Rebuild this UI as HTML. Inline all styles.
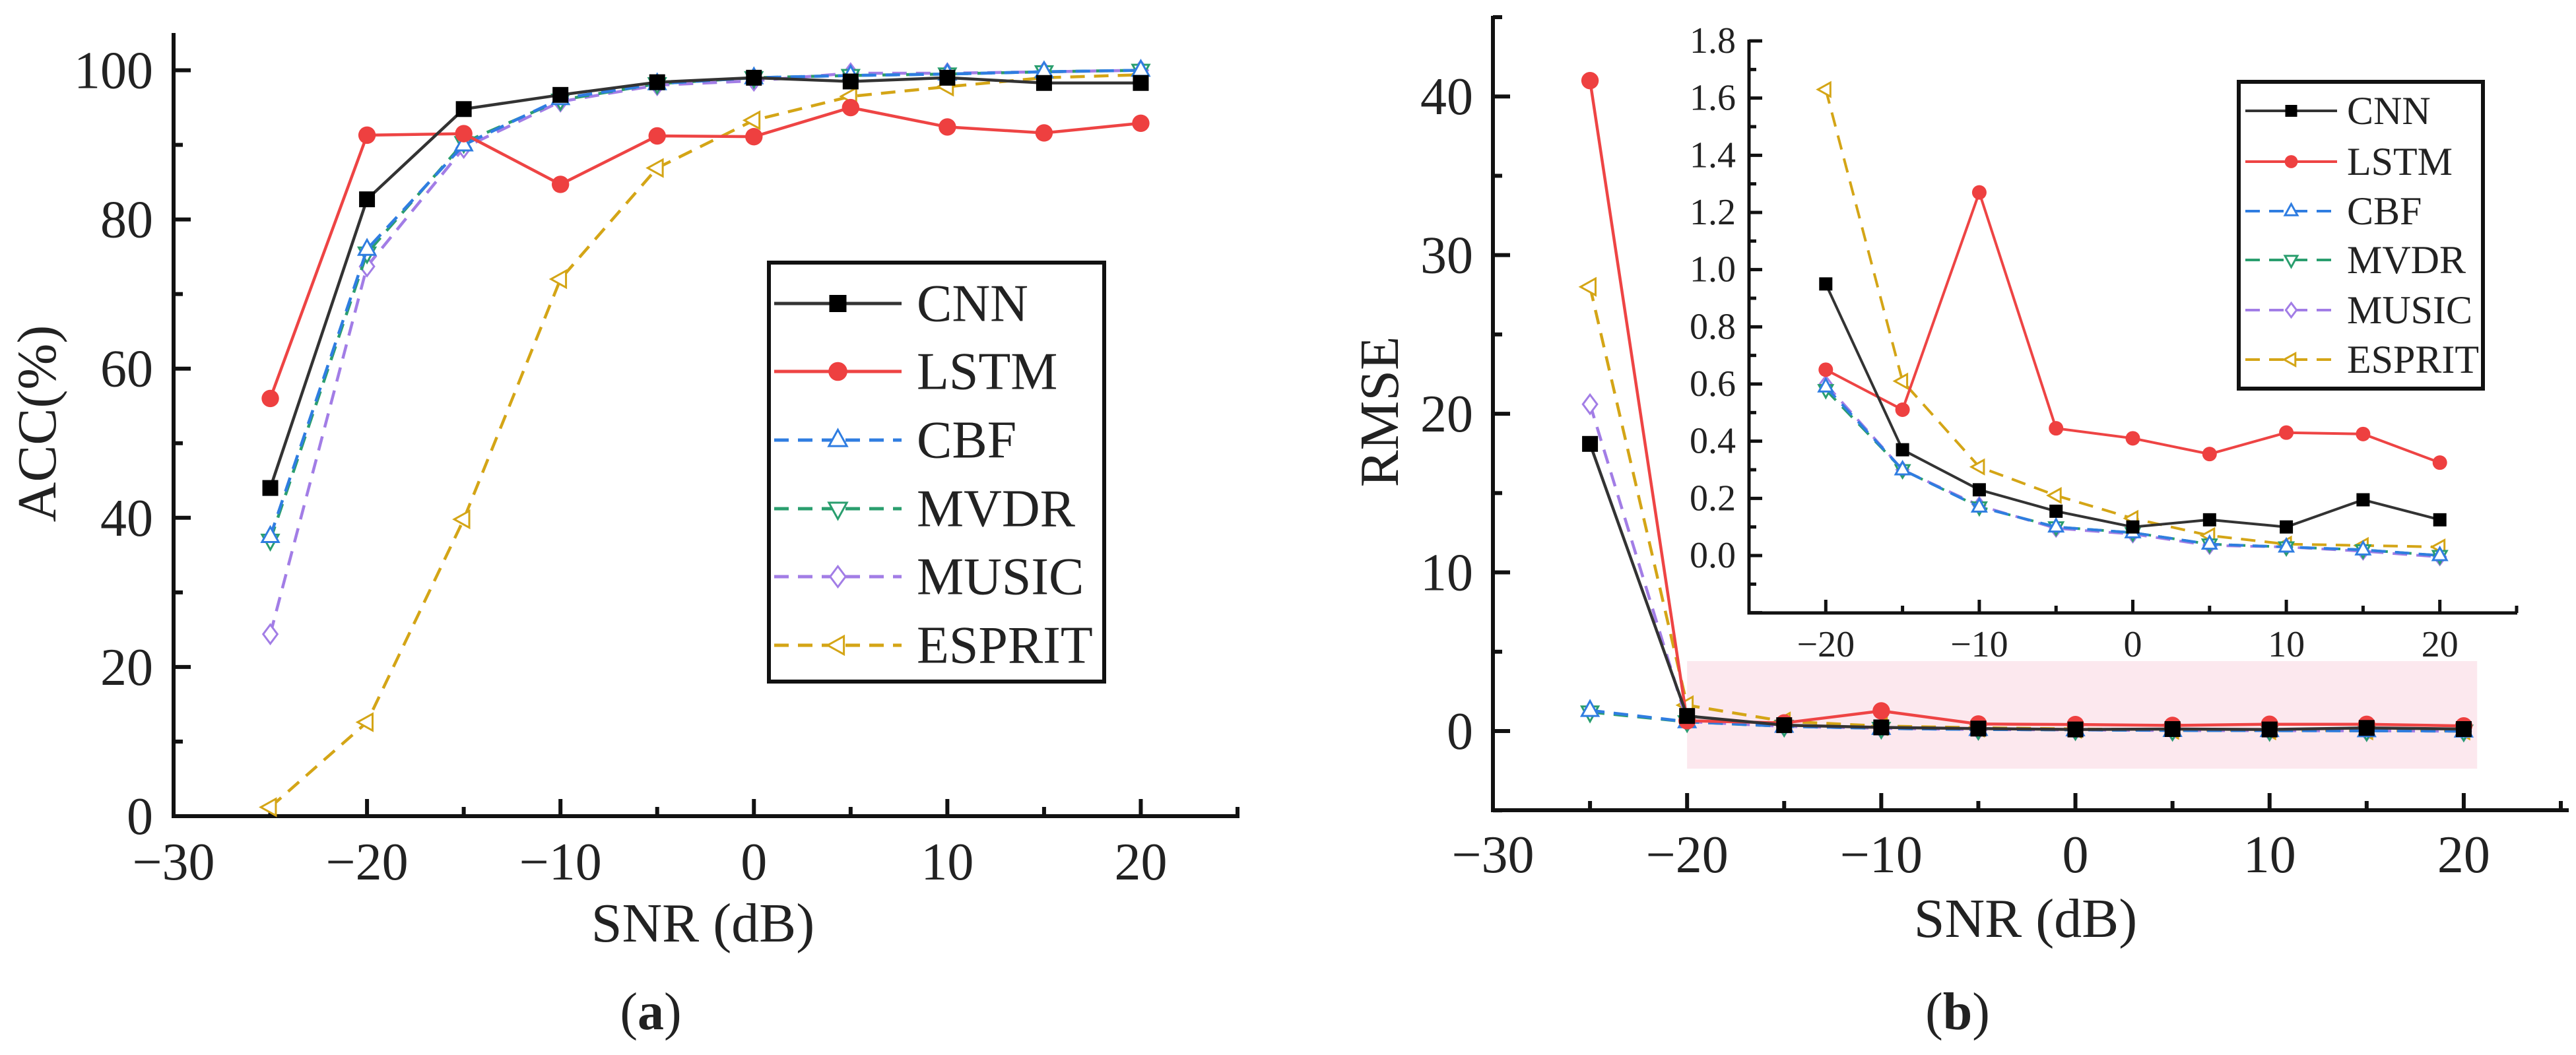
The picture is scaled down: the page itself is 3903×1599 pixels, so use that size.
<!DOCTYPE html>
<html><head><meta charset="utf-8">
<style>
html,body{margin:0;padding:0;background:#fff;}
svg{display:block;font-family:"Liberation Serif","Times New Roman",serif;}
svg text{font-family:"Liberation Serif","Times New Roman",serif;fill:#222;}
</style></head>
<body>
<svg id="fig" width="3903" height="1599" viewBox="0 0 3903 1599" xmlns="http://www.w3.org/2000/svg" font-family="Liberation Serif, serif">
  <g id="chartA"></g>
  <g id="chartB"></g>
  <g id="chartC"></g>
  <text x="986" y="1560" font-size="80" text-anchor="middle" font-family="Liberation Serif, serif">(<tspan font-weight="bold">a</tspan>)</text>
  <text x="2966" y="1560" font-size="80" text-anchor="middle" font-family="Liberation Serif, serif">(<tspan font-weight="bold">b</tspan>)</text>
</svg>
<script>
const seriesNames = ["CNN","LSTM","CBF","MVDR","MUSIC","ESPRIT"];
const snrA = [-25,-20,-15,-10,-5,0,5,10,15,20];
const accCNN = [44,82.7,94.8,96.7,98.4,99,98.5,99,98.3,98.3];
const accLSTM = [56,91.3,91.5,84.7,91.2,91.1,95,92.4,91.6,92.9];
const accCBF = [37.5,76,90,96.2,98.2,99,99.3,99.5,99.8,100];
const accMVDR = [37,75.5,90.3,96,98.2,99,99.3,99.5,99.8,100];
const accMUSIC = [24.4,73.7,89.6,95.8,98,98.6,99.6,99.6,99.8,100];
const accESPRIT = [1.2,12.6,39.8,72,86.9,93.3,96.5,97.8,99,99.4];
const snrB = [-25,-20,-15,-10,-5,0,5,10,15,20];
const rmseCNN = [18.1,0.95,0.37,0.23,0.155,0.1,0.125,0.1,0.195,0.125];
const rmseLSTM = [41,0.65,0.51,1.27,0.445,0.41,0.355,0.43,0.425,0.325];
const rmseCBF = [1.3,0.59,0.3,0.17,0.1,0.08,0.04,0.03,0.02,0.0];
const rmseMVDR = [1.2,0.58,0.3,0.17,0.1,0.08,0.04,0.03,0.02,0.0];
const rmseMUSIC = [20.6,0.6,0.3,0.175,0.095,0.075,0.035,0.03,0.015,-0.005];
const rmseESPRIT = [28,1.63,0.61,0.31,0.21,0.13,0.07,0.04,0.035,0.03];
const xTicksMain = [-30,-20,-10,0,10,20];
const accTicks = [0,20,40,60,80,100];
const rmseTicks = [0,10,20,30,40];
const insetXTicks = [-20,-10,0,10,20];
const insetYTicks = [0,0.2,0.4,0.6,0.8,1.0,1.2,1.4,1.6,1.8];

const NS="http://www.w3.org/2000/svg";
const FF="Liberation Serif, serif";
const styles = {
  CNN:{c:"#333333",dash:null,m:"square",fill:"#000"},
  LSTM:{c:"#ee4444",dash:null,m:"circle",fill:"#ee4040"},
  CBF:{c:"#2f7de1",dash:"22 14",m:"tri",fill:"#fff"},
  MVDR:{c:"#2a9e6e",dash:"22 14",m:"tridown",fill:"#fff"},
  MUSIC:{c:"#a27de6",dash:"22 14",m:"diamond",fill:"#fff"},
  ESPRIT:{c:"#d4a516",dash:"22 14",m:"tril",fill:"#fff"}
};
function el(tag,attrs,parent){const e=document.createElementNS(NS,tag);for(const k in attrs)e.setAttribute(k,attrs[k]);if(tag==="text")e.setAttribute("font-family",FF);parent.appendChild(e);return e;}
function lin(d0,d1,r0,r1){return v=>r0+(v-d0)*(r1-r0)/(d1-d0);}
function marker(g,type,x,y,s,st,sw){
  let e;
  const fillc = st.fill==="#fff"?"#fff":st.fill;
  const strk = st.fill==="#fff"?st.c:st.fill;
  if(type==="square") e=el("rect",{x:x-s,y:y-s,width:2*s,height:2*s,fill:fillc},g);
  else if(type==="circle") e=el("circle",{cx:x,cy:y,r:s*1.1,fill:fillc},g);
  else {
    let p;
    if(type==="tri") p=[[x,y-s*1.2],[x-s*1.05,y+s*0.7],[x+s*1.05,y+s*0.7]];
    if(type==="tridown") p=[[x,y+s*1.2],[x-s*1.05,y-s*0.7],[x+s*1.05,y-s*0.7]];
    if(type==="diamond") p=[[x,y-s*1.2],[x+s*0.9,y],[x,y+s*1.2],[x-s*0.9,y]];
    if(type==="tril") p=[[x-s*1.2,y],[x+s*0.7,y-s*1.05],[x+s*0.7,y+s*1.05]];
    e=el("polygon",{points:p.map(q=>q.join(",")).join(" "),fill:"#fff",stroke:strk,"stroke-width":sw},g);
  }
  return e;
}
function drawSeries(g,xs,ys,X,Y,name,lw,ms){
  const st=styles[name];
  const sg=el("g",{},g);
  
  
  const pts=xs.map((x,i)=>X(x).toFixed(1)+","+Y(ys[i]).toFixed(1)).join(" ");
  const pl=el("polyline",{points:pts,fill:"none",stroke:st.c,"stroke-width":lw,"stroke-linejoin":"round"},sg);
  if(st.dash) pl.setAttribute("stroke-dasharray",st.dash);
  
  
  xs.forEach((x,i)=>{
    const m=marker(sg,st.m,X(x),Y(ys[i]),ms,st,3);
    
    
  });
}
function legend(g,x0,y0,w,h,rowYs,lineX0,lineX1,textX,fs,ms,lw){
  const lg=el("g",{},g);
  
  
  el("rect",{x:x0,y:y0,width:w,height:h,fill:"#fff",stroke:"#111","stroke-width":6},lg);
  seriesNames.forEach((n,i)=>{
    const st=styles[n];const y=rowYs[i];
    const eg=el("g",{},lg);
    
    
    const l=el("line",{x1:lineX0,y1:y,x2:lineX1,y2:y,stroke:st.c,"stroke-width":lw},eg);
    if(st.dash) l.setAttribute("stroke-dasharray",st.dash);
    marker(eg,st.m,(lineX0+lineX1)/2,y,ms,st,3);
    const t=el("text",{x:textX,y:y+fs*0.33,"font-size":fs},eg);
    t.textContent=n;
  });
}
// ---------- Chart A ----------
(function(){
  const g=document.getElementById("chartA");
  const X=lin(-30,25,263,1875), Y=lin(0,105,1237,50);
  const ax=el("g",{stroke:"#111","stroke-width":6,fill:"none"},g);
  
  
  el("polyline",{points:`263,50 263,1237 1878,1237`},ax);
  for(let v=-25;v<=25;v+=5){ const L=(v%10===0)?26:14; el("line",{x1:X(v),y1:1237,x2:X(v),y2:1237-L},ax);}
  for(let v=10;v<=100;v+=10){const L=(v%20===0)?26:14; el("line",{x1:263,y1:Y(v),x2:263+L,y2:Y(v)},ax);}
  xTicksMain.forEach(v=>{const t=el("text",{x:X(v),y:1333,"font-size":80,"text-anchor":"middle"},g);t.textContent=(v<0?"\u2212":"")+Math.abs(v);
    });
  accTicks.forEach(v=>{const t=el("text",{x:232,y:Y(v)+27,"font-size":80,"text-anchor":"end"},g);t.textContent=v;
    });
  const xt=el("text",{x:1065,y:1427,"font-size":84,"text-anchor":"middle"},g);xt.textContent="SNR (dB)";
  
  const yt=el("text",{x:0,y:0,"font-size":84,"text-anchor":"middle",transform:"translate(84,642) rotate(-90)"},g);yt.textContent="ACC(%)";
  
  const data={CNN:accCNN,LSTM:accLSTM,CBF:accCBF,MVDR:accMVDR,MUSIC:accMUSIC,ESPRIT:accESPRIT};
  ["ESPRIT","MUSIC","MVDR","CBF","LSTM","CNN"].forEach(n=>drawSeries(g,snrA,data[n],X,Y,n,4.5,12));
  legend(g,1165,398,508,635,[460,563,667,771,874,978],1173,1366,1389,80,13,5);
})();
// ---------- Chart B ----------
(function(){
  const g=document.getElementById("chartB");
  const X=lin(-30,25,2262,3880), Y=lin(0,45,1108,26);
  const pr=el("rect",{x:X(-20),y:1002,width:1197,height:163,fill:"#fce8ee"},g);
  
  
  const ax=el("g",{stroke:"#111","stroke-width":6,fill:"none"},g);
  
  
  el("polyline",{points:`2262,24 2262,1228 3892,1228`},ax);
  for(let v=-25;v<=25;v+=5){const L=(v%10===0)?26:14; el("line",{x1:X(v),y1:1228,x2:X(v),y2:1228-L},ax);}
  for(let v=-5;v<=45;v+=5){const L=(v%10===0)?26:14; el("line",{x1:2262,y1:Y(v),x2:2262+L,y2:Y(v)},ax);}
  xTicksMain.forEach(v=>{const t=el("text",{x:X(v),y:1322,"font-size":80,"text-anchor":"middle"},g);t.textContent=(v<0?"\u2212":"")+Math.abs(v);
    });
  rmseTicks.forEach(v=>{const t=el("text",{x:2232,y:Y(v)+27,"font-size":80,"text-anchor":"end"},g);t.textContent=v;
    });
  const xt=el("text",{x:3069,y:1420,"font-size":84,"text-anchor":"middle"},g);xt.textContent="SNR (dB)";
  
  const yt=el("text",{x:0,y:0,"font-size":84,"text-anchor":"middle",transform:"translate(2118,624) rotate(-90)"},g);yt.textContent="RMSE";
  
  const data={CNN:rmseCNN,LSTM:rmseLSTM,CBF:rmseCBF,MVDR:rmseMVDR,MUSIC:rmseMUSIC,ESPRIT:rmseESPRIT};
  ["ESPRIT","MUSIC","MVDR","CBF","LSTM","CNN"].forEach(n=>drawSeries(g,snrB,data[n],X,Y,n,4.5,12));
})();
// ---------- Inset ----------
(function(){
  const g=document.getElementById("chartC");
  const X=lin(-25,25,2650,3813), Y=lin(0,1.8,842,62);
  const xs=snrB.slice(1);
  const ax=el("g",{stroke:"#111","stroke-width":5,fill:"none"},g);
  
  
  el("polyline",{points:`2650,60 2650,929 3814,929`},ax);
  for(let v=-20;v<=25;v+=5){const L=(v%10===0)?20:11; el("line",{x1:X(v),y1:929,x2:X(v),y2:929-L},ax);}
  for(let k=-2;k<=18;k++){const v=k/10;const L=(k%2===0)?20:11; el("line",{x1:2650,y1:Y(v),x2:2650+L,y2:Y(v)},ax);}
  insetXTicks.forEach(v=>{const t=el("text",{x:X(v),y:995,"font-size":56,"text-anchor":"middle"},g);t.textContent=(v<0?"\u2212":"")+Math.abs(v);
    });
  insetYTicks.forEach(v=>{const t=el("text",{x:2630,y:Y(v)+18,"font-size":56,"text-anchor":"end"},g);t.textContent=v.toFixed(1);
    });
  const data={CNN:rmseCNN,LSTM:rmseLSTM,CBF:rmseCBF,MVDR:rmseMVDR,MUSIC:rmseMUSIC,ESPRIT:rmseESPRIT};
  ["ESPRIT","MUSIC","MVDR","CBF","LSTM","CNN"].forEach(n=>drawSeries(g,xs,data[n].slice(1),X,Y,n,4,10));
  legend(g,3392,124,370,465,[168,245,320,394,470,545],3402,3541,3556,60,9,4);
})();
</script>
</body></html>
